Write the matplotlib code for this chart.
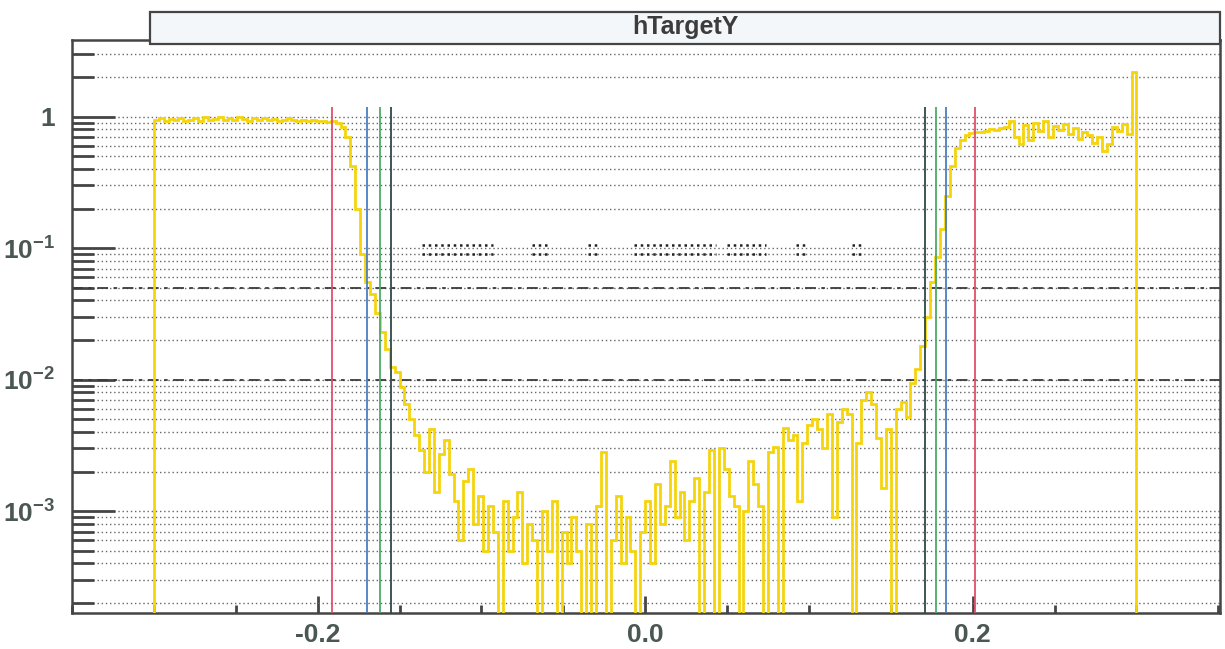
import numpy as np
import matplotlib
matplotlib.use("Agg")
import matplotlib.pyplot as plt
from matplotlib.patches import Rectangle
from matplotlib.ticker import FixedLocator, FuncFormatter, NullFormatter

plt.rcParams['font.family'] = ['Liberation Sans', 'DejaVu Sans']
plt.rcParams['mathtext.fontset'] = 'custom'
plt.rcParams['mathtext.rm'] = 'Liberation Sans'
plt.rcParams['mathtext.bf'] = 'Liberation Sans:bold'

# ---------------------------------------------------------------- data
title = "hTargetY"
x_lo, x_hi, n_bins = -0.3, 0.3, 200

left_plateau = [0.95, 0.97, 0.93, 0.96, 0.94, 0.98, 0.92, 0.95, 0.97, 0.93,
                0.99, 0.94, 0.96, 1.00, 0.94, 0.97, 0.95, 0.99, 0.96, 0.93,
                0.97, 0.95, 0.98, 0.94, 0.96, 0.93, 0.95, 0.97, 0.94, 0.92,
                0.95, 0.93, 0.95, 0.92, 0.93, 0.91, 0.92]
left_edge = [0.89, 0.84, 0.70, 0.42, 0.20, 0.090, 0.055, 0.045, 0.032, 0.023,
             0.017, 0.0125, 0.0115, 0.0088, 0.0065, 0.0050, 0.0038]
left_tail = [0.0029, 0.0020, 0.0042, 0.0014, 0.0027, 0.0035, 0.0019, 0.0012,
             0.0006, 0.0017, 0.0021, 0.0008, 0.0013, 0.0005, 0.0011, 0.0007]
floor_region = [0, 0.0012, 0.0005, 0.0009, 0.0014, 0.0004, 0.0008, 0.0006, 0,
                0.0010, 0.0005, 0.0012, 0, 0.0007, 0.0004, 0.0009, 0.0005, 0,
                0.0008, 0, 0.0011, 0.0028, 0, 0.0006, 0.0013, 0.0004, 0.0009,
                0.0005, 0, 0.0007, 0.0012, 0.0004, 0.0016, 0.0008, 0.0011,
                0.0024, 0.0009, 0.0014, 0.0006, 0.0012, 0.0018, 0]
right_rise = [0.0014, 0.0029, 0, 0.0030, 0.0021, 0.0013, 0.0011, 0, 0.0010,
              0.0024, 0.0016, 0.0011, 0, 0.0028, 0.0031, 0, 0.0043, 0.0035,
              0.0038, 0.0012, 0.0033, 0.0045, 0.0050, 0.0042, 0.0030, 0.0055,
              0.0009, 0.0048, 0.0060, 0.0055, 0, 0.0033, 0.0070, 0.0080,
              0.0065, 0.0036, 0.0015, 0.0042, 0, 0.0060, 0.0068, 0.0052, 0.0095]
right_edge = [0.012, 0.018, 0.030, 0.055, 0.085, 0.14, 0.25, 0.42, 0.58, 0.67,
              0.72, 0.75, 0.76]
right_plateau = [0.77, 0.78, 0.80, 0.79, 0.82, 0.84, 0.92, 0.70, 0.62, 0.86,
                 0.66, 0.90, 0.78, 0.93, 0.70, 0.85, 0.79, 0.88, 0.74, 0.82,
                 0.68, 0.76, 0.72, 0.63, 0.70, 0.55, 0.62, 0.84, 0.78, 0.88, 0.74]
last_bin = [2.2]

# cut positions drawn as vertical markers
cut_red = [-0.191, 0.2015]
cut_blue = [-0.170, 0.1836]
cut_green = [-0.162, 0.1773]
cut_dark = [-0.155, 0.1706]
cut_top = 1.18

# reference levels
dashed_levels = [0.05, 0.01]

# short dotted segments near 0.1
seg_levels = [0.105, 0.091]
seg_start = [-0.136, -0.069, -0.035, -0.007, 0.050, 0.092, 0.126]
seg_end = [-0.093, -0.060, -0.028, 0.043, 0.074, 0.098, 0.132]

x_major = [-0.2, 0.0, 0.2]
x_labels = ["-0.2", "0.0", "0.2"]

# ---------------------------------------------------------------- figure
values = np.array(left_plateau + left_edge + left_tail + floor_region +
                  right_rise + right_edge + right_plateau + last_bin, dtype=float)
edges = np.linspace(x_lo, x_hi, n_bins + 1)
floor_val = 1e-7
plot_vals = np.where(values > 0, values, floor_val)

fig = plt.figure(figsize=(12.25, 6.49), dpi=100)
ax = fig.add_axes([72 / 1225, 1 - 613 / 649, (1220 - 72) / 1225, (613 - 40) / 649])

ymin, ymax = 1.68e-4, 3.83
ax.set_yscale('log')
ax.set_xlim(-0.35, 0.351)
ax.set_ylim(ymin, ymax)

axis_col = '#454545'
label_col = '#4a5753'

# horizontal grid at every decade sub-division
ax.set_axisbelow(True)
ax.yaxis.grid(True, which='both', color='#666666', linestyle=(0, (1, 2)), linewidth=1.0)
ax.xaxis.grid(False)

for lvl in dashed_levels:
    ax.axhline(lvl, color='#3a3a3a', linewidth=1.3, linestyle=(0, (6, 3, 2, 3)), zorder=2)

for lvl in seg_levels:
    ax.hlines([lvl] * len(seg_start), seg_start, seg_end, color='#222222',
              linewidth=1.8, linestyle=(0, (1, 1.5)), zorder=2)

# histogram
ax.stairs(plot_vals, edges, baseline=floor_val, color='#f5d40c', linewidth=2.0, zorder=3)

# cut lines
for xs, col in [(cut_red, '#e0506a'), (cut_blue, '#4a7fc0'),
                (cut_green, '#4caa6a'), (cut_dark, '#2e4a48')]:
    ax.vlines(xs, ymin, cut_top, color=col, linewidth=1.3, zorder=4)

# axes styling
for side in ['left', 'bottom', 'top', 'right']:
    ax.spines[side].set_color(axis_col)
    ax.spines[side].set_linewidth(1.8)

ax.xaxis.set_major_locator(FixedLocator(x_major))
ax.xaxis.set_minor_locator(FixedLocator(np.round(np.arange(-0.35, 0.351, 0.05), 3)))
ax.set_xticklabels(x_labels)
ax.yaxis.set_major_locator(FixedLocator([1e-3, 1e-2, 1e-1, 1.0]))
ax.yaxis.set_minor_locator(FixedLocator(
    [m * 10.0 ** e for e in range(-4, 1) for m in range(2, 10)]))


def ylab(v, pos):
    if abs(v - 1.0) < 1e-9:
        return '1'
    e = int(round(np.log10(v)))
    return r'$\mathbf{10^{%d}}$' % e


ax.yaxis.set_major_formatter(FuncFormatter(ylab))
ax.yaxis.set_minor_formatter(NullFormatter())

ax.tick_params(axis='x', which='major', direction='in', length=12, width=2,
               color=axis_col, labelsize=19, labelcolor=label_col, pad=7,
               top=False, bottom=True)
ax.tick_params(axis='x', which='minor', direction='in', length=6, width=2,
               color=axis_col, top=False, bottom=True)
ax.tick_params(axis='y', which='major', direction='in', length=31, width=2,
               color=axis_col, labelsize=19, labelcolor=label_col, pad=12,
               left=True, right=False)
ax.tick_params(axis='y', which='minor', direction='in', length=16, width=2,
               color=axis_col, left=True, right=False)
for lab in ax.get_xticklabels():
    lab.set_fontweight('bold')
for lab in ax.get_yticklabels():
    lab.set_fontweight('bold')

# title box
fig.patches.append(Rectangle((150 / 1225, 1 - 44 / 649), (1220 - 150) / 1225, 32 / 649,
                             transform=fig.transFigure, facecolor='#f3f7fa',
                             edgecolor=axis_col, linewidth=1.6, zorder=5))
fig.text(685 / 1225, 1 - 27 / 649, title, ha='center', va='center',
         fontsize=18, fontweight='bold', color='#3c3c3c', zorder=6)

fig.savefig('out.png', dpi=100)
